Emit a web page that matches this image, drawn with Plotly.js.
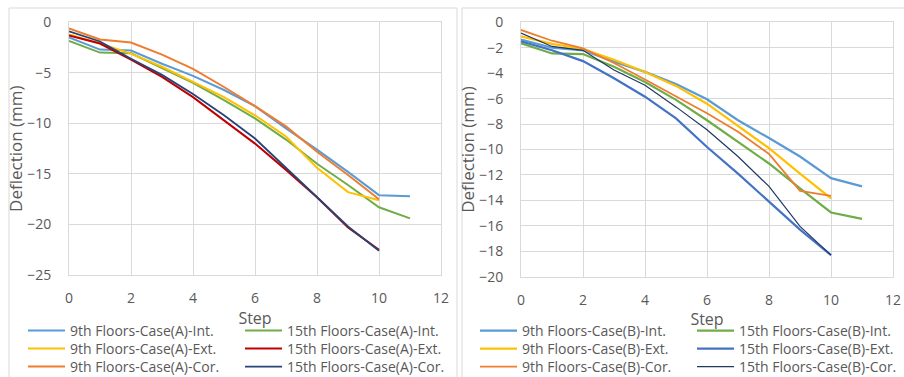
<!DOCTYPE html>
<html>
<head>
<meta charset="utf-8">
<script src="https://cdn.plot.ly/plotly-3.0.1.min.js"></script>
<style>html,body{margin:0;padding:0;background:#fff;}#chart{width:904px;height:377px;}</style>
</head>
<body>
<div id="chart"></div>
<script>
// Steps
const stepsLong = [0,1,2,3,4,5,6,7,8,9,10,11];
const stepsShort = [0,1,2,3,4,5,6,7,8,9,10];

// Case (A)
const a9Int  = [-1.5,-2.7,-2.8,-4.1,-5.3,-6.7,-8.3,-10.5,-12.6,-14.8,-17.1,-17.2];
const a15Int = [-1.85,-3.0,-3.07,-4.55,-6.0,-7.7,-9.5,-11.6,-14.0,-16.1,-18.3,-19.4];
const a9Ext  = [-1.2,-2.1,-3.1,-4.4,-5.9,-7.4,-9.2,-11.3,-14.4,-16.8,-17.6];
const a15Ext = [-1.3,-2.1,-3.7,-5.4,-7.4,-9.7,-12.0,-14.6,-17.3,-20.3,-22.5];
const a9Cor  = [-0.6,-1.7,-2.0,-3.2,-4.6,-6.4,-8.3,-10.3,-12.8,-15.1,-17.5];
const a15Cor = [-0.9,-1.9,-3.6,-5.2,-7.1,-9.2,-11.5,-14.4,-17.3,-20.2,-22.6];

// Case (B)
const b9Int  = [-1.35,-2.0,-2.2,-3.1,-3.9,-4.85,-6.05,-7.7,-9.1,-10.55,-12.25,-12.9];
const b15Int = [-1.65,-2.45,-2.5,-3.5,-4.7,-6.1,-7.7,-9.4,-11.1,-13.05,-14.95,-15.45];
const b9Ext  = [-1.1,-1.7,-2.1,-2.95,-3.9,-5.0,-6.4,-8.15,-9.9,-11.9,-13.85];
const b15Ext = [-1.5,-2.2,-3.05,-4.4,-5.85,-7.55,-9.8,-11.9,-14.1,-16.3,-18.3];
const b9Cor  = [-0.6,-1.45,-2.05,-3.2,-4.5,-5.85,-7.15,-8.6,-10.35,-13.25,-13.65];
const b15Cor = [-0.85,-1.9,-2.2,-3.75,-4.95,-6.65,-8.45,-10.55,-12.9,-16.05,-18.3];

const namesA = ["9th Floors-Case(A)-Int.","15th Floors-Case(A)-Int.","9th Floors-Case(A)-Ext.","15th Floors-Case(A)-Ext.","9th Floors-Case(A)-Cor.","15th Floors-Case(A)-Cor."];
const namesB = ["9th Floors-Case(B)-Int.","15th Floors-Case(B)-Int.","9th Floors-Case(B)-Ext.","15th Floors-Case(B)-Ext.","9th Floors-Case(B)-Cor.","15th Floors-Case(B)-Cor."];

const C = {lblue:"#5B9BD5", green:"#70AD47", yellow:"#FFC000", red:"#C00000", orange:"#ED7D31", navyA:"#264478", blue:"#4472C4", navyB:"#203864"};

function tr(x, y, name, color, width, xa, ya, leg){
  return {x:x, y:y, name:name, type:'scatter', mode:'lines', xaxis:xa, yaxis:ya, legend:leg,
          line:{color:color, width:width}, hoverinfo:'skip'};
}

const data = [
  tr(stepsLong,  a9Int,  namesA[0], C.lblue,  2, 'x','y','legend'),
  tr(stepsLong,  a15Int, namesA[1], C.green,  2, 'x','y','legend'),
  tr(stepsShort, a9Ext,  namesA[2], C.yellow, 2, 'x','y','legend2'),
  tr(stepsShort, a15Ext, namesA[3], C.red,    2, 'x','y','legend2'),
  tr(stepsShort, a9Cor,  namesA[4], C.orange, 2, 'x','y','legend3'),
  tr(stepsShort, a15Cor, namesA[5], C.navyA,  1.8, 'x','y','legend3'),

  tr(stepsLong,  b9Int,  namesB[0], C.lblue,  2.2, 'x2','y2','legend4'),
  tr(stepsLong,  b15Int, namesB[1], C.green,  2.2, 'x2','y2','legend4'),
  tr(stepsShort, b9Ext,  namesB[2], C.yellow, 2.2, 'x2','y2','legend5'),
  tr(stepsShort, b15Ext, namesB[3], C.blue,   2.2, 'x2','y2','legend5'),
  tr(stepsShort, b9Cor,  namesB[4], C.orange, 1.8, 'x2','y2','legend6'),
  tr(stepsShort, b15Cor, namesB[5], C.navyB,  1.2, 'x2','y2','legend6')
];

const W = 904, H = 377;
const px = v => v / W;
const py = v => 1 - v / H;
const FONT = 'Open Sans, sans-serif';
const TXT = '#595959';
const GRID = '#d9d9d9';

function xaxisDef(domain, anchor){
  return {domain:domain, anchor:anchor, range:[0,12], dtick:2, tick0:0, showgrid:true, gridcolor:GRID, gridwidth:1,
          zeroline:false, showline:true, mirror:true, linecolor:GRID, linewidth:1, ticks:'', automargin:false,
          tickfont:{family:FONT, size:14, color:TXT}, ticklabelstandoff:10,
          title:{text:'Step', font:{family:FONT, size:16, color:TXT}, standoff:0}};
}
function yaxisDef(domain, anchor, range, dtick){
  return {domain:domain, anchor:anchor, range:range, dtick:dtick, showgrid:true, gridcolor:GRID, gridwidth:1,
          zeroline:false, showline:true, mirror:true, linecolor:GRID, linewidth:1, ticks:'', automargin:false,
          tickfont:{family:FONT, size:14, color:TXT}, ticklabelstandoff:14,
          title:{text:'Deflection (mm)', font:{family:FONT, size:17, color:TXT}, standoff:0}};
}
function legDef(x, yc){
  return {x:x, y:yc, xanchor:'left', yanchor:'middle', orientation:'h', bgcolor:'rgba(0,0,0,0)',
          entrywidth:165, entrywidthmode:'pixels', itemwidth:37,
          font:{family:FONT, size:14, color:TXT}, itemclick:false, itemdoubleclick:false};
}

const layout = {
  width:W, height:H, margin:{l:0,r:0,t:0,b:0, autoexpand:false}, paper_bgcolor:'#fff', plot_bgcolor:'#fff', showlegend:true,
  xaxis: xaxisDef([px(69), px(441)], 'y'),
  yaxis: yaxisDef([py(275), py(22.3)], 'x', [-25,0], 5),
  xaxis2: xaxisDef([px(521), px(893)], 'y2'),
  yaxis2: yaxisDef([py(276.7), py(22.3)], 'x2', [-20,0], 2),
  legend:  legDef(px(23), py(331)),
  legend2: legDef(px(23), py(349)),
  legend3: legDef(px(23), py(367)),
  legend4: legDef(px(475), py(331)),
  legend5: legDef(px(475), py(349)),
  legend6: legDef(px(475), py(367)),
  shapes:[
    {type:'rect', xref:'paper', yref:'paper', x0:px(9), x1:px(457), y0:py(380), y1:py(8), line:{color:GRID, width:1}, fillcolor:'rgba(0,0,0,0)'},
    {type:'rect', xref:'paper', yref:'paper', x0:px(462), x1:px(905), y0:py(380), y1:py(8), line:{color:GRID, width:1}, fillcolor:'rgba(0,0,0,0)'}
  ]
};

Plotly.newPlot('chart', data, layout, {displayModeBar:false, staticPlot:true});
</script>
</body>
</html>
